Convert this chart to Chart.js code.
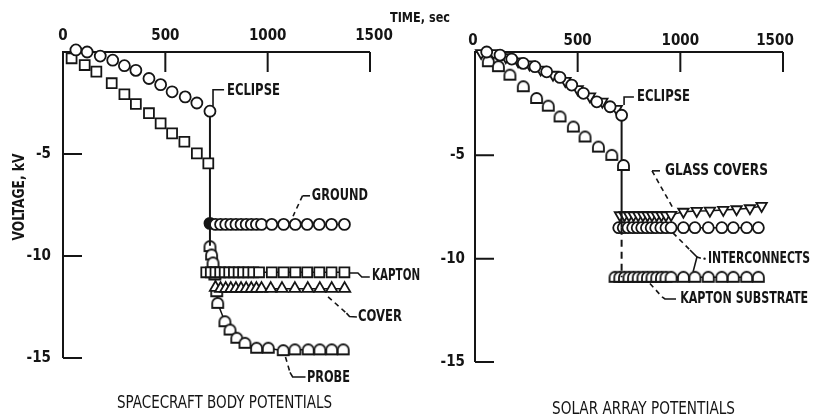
<!DOCTYPE html>
<html>
<head>
<meta charset="utf-8">
<script src="https://cdn.jsdelivr.net/npm/chart.js@4"></script>
<style>
  html, body { margin: 0; padding: 0; background: #fff; }
  #wrap { position: relative; width: 819px; height: 419px; }
  canvas { position: absolute; top: 0; }
  #left { left: 0; }
  #right { left: 420px; }
</style>
</head>
<body>
<div id="wrap">
  <canvas id="left" width="819" height="419"></canvas>
  <canvas id="right" width="399" height="419"></canvas>
</div>
<script>
// ---- axis ticks ----
const xTicks = [0, 500, 1000, 1500];
const yTicks = [-5, -10, -15];

// ---- spacecraft body potentials (left) ----
// before eclipse
const bodyPreCircT = [63, 118, 182, 243, 300, 356, 420, 477, 533, 597, 654, 718];
const bodyPreCircV = [0.1, 0.0, -0.2, -0.4, -0.67, -0.9, -1.3, -1.6, -1.95, -2.2, -2.5, -2.9];
const bodyPreSqT = [42, 106, 163, 238, 300, 356, 420, 477, 533, 593, 654, 710];
const bodyPreSqV = [-0.31, -0.64, -0.96, -1.53, -2.07, -2.55, -3.0, -3.5, -3.99, -4.4, -4.97, -5.46];
const bodyEclipseT = 718;
const bodyEclipseV = [-2.9, -9.5];
// after eclipse
const groundT = [718, 745, 770, 795, 820, 845, 870, 895, 920, 945, 970, 1020, 1078, 1135, 1193, 1252, 1312, 1375];
const groundV = [-8.4, -8.45, -8.45, -8.45, -8.45, -8.45, -8.45, -8.45, -8.45, -8.45, -8.45, -8.45, -8.45, -8.45, -8.45, -8.45, -8.45, -8.45];
const kaptonT = [700, 722, 745, 768, 790, 812, 835, 858, 880, 905, 930, 958, 1020, 1078, 1135, 1193, 1252, 1312, 1375];
const kaptonV = [-10.8, -10.8, -10.8, -10.8, -10.8, -10.8, -10.8, -10.8, -10.8, -10.8, -10.8, -10.8, -10.8, -10.8, -10.8, -10.8, -10.8, -10.8, -10.8];
const coverT = [745, 770, 795, 820, 845, 870, 895, 920, 945, 970, 1015, 1070, 1133, 1196, 1255, 1313, 1376];
const coverV = [-11.55, -11.6, -11.6, -11.6, -11.6, -11.6, -11.6, -11.6, -11.6, -11.6, -11.6, -11.6, -11.6, -11.6, -11.6, -11.6, -11.6];
const probeT = [718, 726, 733, 742, 751, 756, 791, 816, 849, 889, 946, 1003, 1076, 1133, 1198, 1255, 1313, 1369];
const probeV = [-9.54, -9.95, -10.34, -10.93, -11.75, -12.32, -13.22, -13.63, -14.03, -14.28, -14.52, -14.52, -14.64, -14.6, -14.6, -14.6, -14.6, -14.6];

// ---- solar array potentials (right) ----
const arrPreCircT = [57, 122, 179, 235, 292, 349, 414, 471, 528, 593, 658, 714];
const arrPreCircV = [0.0, -0.15, -0.34, -0.55, -0.71, -0.96, -1.23, -1.6, -2.0, -2.41, -2.65, -3.06];
const arrPreTriT = [30, 90, 150, 210, 265, 320, 380, 440, 500, 560, 620, 690];
const arrPreTriV = [-0.05, -0.05, -0.25, -0.45, -0.6, -0.85, -1.1, -1.4, -1.8, -2.15, -2.4, -2.75];
const arrPreDomeT = [65, 114, 170, 235, 300, 357, 414, 479, 536, 601, 666, 723];
const arrPreDomeV = [-0.47, -0.71, -1.12, -1.68, -2.25, -2.62, -3.14, -3.63, -4.11, -4.6, -5.0, -5.49];
const arrEclipseT = 714;
const arrEclipseSolidV = [-3.06, -8.5];
const arrEclipseDashV = [-8.5, -10.9];
const glassT = [706, 728, 750, 772, 795, 818, 840, 862, 885, 908, 930, 955, 1015, 1080, 1144, 1209, 1274, 1339, 1396];
const glassV = [-7.9, -7.9, -7.9, -7.9, -7.9, -7.9, -7.9, -7.9, -7.9, -7.9, -7.9, -7.88, -7.73, -7.69, -7.68, -7.64, -7.61, -7.56, -7.45];
const interT = [700, 722, 745, 768, 790, 812, 835, 858, 880, 905, 930, 955, 1015, 1071, 1136, 1202, 1258, 1323, 1380];
const interV = [-8.5, -8.5, -8.5, -8.5, -8.5, -8.5, -8.5, -8.5, -8.5, -8.5, -8.5, -8.5, -8.5, -8.5, -8.5, -8.5, -8.5, -8.5, -8.5];
const kapSubT = [682, 705, 728, 750, 772, 795, 818, 840, 862, 885, 908, 930, 955, 1015, 1071, 1136, 1202, 1258, 1323, 1380];
const kapSubV = [-10.9, -10.9, -10.9, -10.9, -10.9, -10.9, -10.9, -10.9, -10.9, -10.9, -10.9, -10.9, -10.9, -10.9, -10.9, -10.9, -10.9, -10.9, -10.9, -10.9];

const INK = '#151515';
const FONT = '"Liberation Sans Narrow", "DejaVu Sans Condensed", sans-serif';

const pts = (ts, vs) => ts.map((t, i) => ({ x: t, y: vs[i] }));

// rounded-top, flat-bottom marker
function domeMarker(r) {
  const s = Math.ceil(2 * r + 4);
  const c = document.createElement('canvas');
  c.width = c.height = s;
  const g = c.getContext('2d');
  const m = s / 2;
  g.lineWidth = 1.8;
  g.strokeStyle = INK;
  g.fillStyle = '#fff';
  g.beginPath();
  g.moveTo(m - r, m + r - 1);
  g.lineTo(m - r, m);
  g.arc(m, m, r, Math.PI, 0);
  g.lineTo(m + r, m + r - 1);
  g.closePath();
  g.fill();
  g.stroke();
  return c;
}
const dome = domeMarker(5.5);

function markers(data, style, extra) {
  return Object.assign({
    data, showLine: false, pointStyle: style, pointRadius: 5.5,
    pointBorderColor: INK, pointBackgroundColor: '#fff', pointBorderWidth: 1.8,
    borderColor: INK, borderWidth: 1.5, clip: false
  }, extra || {});
}
function rule(data, dash) {
  return { data, showLine: true, pointRadius: 0, borderColor: INK, borderWidth: 2,
           borderDash: dash || [], clip: false };
}

// text stretched to a given width
function fitText(ctx, text, x, y, w, font) {
  ctx.save();
  ctx.font = font;
  ctx.textBaseline = 'middle';
  ctx.textAlign = 'left';
  const m = ctx.measureText(text).width;
  if (m > w) {
    ctx.translate(x, y);
    ctx.scale(w / m, 1);
    ctx.fillText(text, 0, 0);
  } else {
    ctx.letterSpacing = ((w - m) / Math.max(1, text.length - 1)) + 'px';
    ctx.fillText(text, x, y);
  }
  ctx.restore();
}

const paperAxes = {
  id: 'paperAxes',
  beforeDatasetsDraw(chart, args, o) {
    const { ctx, scales: { x, y } } = chart;
    const x0 = x.getPixelForValue(0), y0 = y.getPixelForValue(0);
    ctx.save();
    ctx.strokeStyle = INK;
    ctx.lineWidth = 2;
    ctx.beginPath();
    ctx.moveTo(x.getPixelForValue(xTicks[xTicks.length - 1]), y0);
    ctx.lineTo(x0, y0);
    ctx.lineTo(x0, y.getPixelForValue(yTicks[yTicks.length - 1]));
    ctx.stroke();
    ctx.beginPath();
    xTicks.forEach(t => {
      if (t === 0) return;
      const px = x.getPixelForValue(t);
      ctx.moveTo(px, y0); ctx.lineTo(px, y0 + 20);
    });
    yTicks.forEach(v => {
      const py = y.getPixelForValue(v);
      ctx.moveTo(x0, py); ctx.lineTo(x0 + 19, py);
    });
    ctx.stroke();
    ctx.fillStyle = INK;
    ctx.font = 'bold 15px ' + FONT;
    ctx.textBaseline = 'middle';
    xTicks.forEach((t, i) => {
      ctx.textAlign = 'center';
      ctx.fillText(String(t), x.getPixelForValue(t) + (o.xShift[i] || 0), y0 - o.xGap);
    });
    yTicks.forEach(v => {
      ctx.textAlign = 'right';
      ctx.fillText(String(v), x0 - o.yGap, y.getPixelForValue(v));
    });
    ctx.restore();
  },
  afterDatasetsDraw(chart, args, o) {
    const { ctx, scales: { x, y } } = chart;
    const P = ([t, v]) => [x.getPixelForValue(t), y.getPixelForValue(v)];
    ctx.save();
    ctx.strokeStyle = INK;
    ctx.fillStyle = INK;
    ctx.lineWidth = 1.6;
    (o.leaders || []).forEach(l => {
      ctx.setLineDash(l.dash ? [5, 4] : []);
      ctx.beginPath();
      l.path.forEach((p, i) => {
        const [px, py] = P(p);
        if (i === 0) ctx.moveTo(px, py); else ctx.lineTo(px, py);
      });
      ctx.stroke();
    });
    ctx.setLineDash([]);
    (o.dots || []).forEach(d => {
      const [px, py] = P(d);
      ctx.beginPath(); ctx.arc(px, py, 1.2, 0, Math.PI * 2); ctx.fill();
    });
    (o.notes || []).forEach(n => {
      const [px, py] = P(n.at);
      fitText(ctx, n.text, px, py, n.w, 'bold 15px ' + FONT);
    });
    (o.texts || []).forEach(n => {
      if (n.rotate) {
        ctx.save();
        ctx.translate(n.x, n.y);
        ctx.rotate(-Math.PI / 2);
        fitText(ctx, n.text, -n.w / 2, 0, n.w, n.font);
        ctx.restore();
      } else {
        fitText(ctx, n.text, n.x, n.y, n.w, n.font);
      }
    });
    ctx.restore();
  }
};

function baseOptions(padding, axesOpts) {
  return {
    responsive: false,
    animation: false,
    layout: { padding },
    scales: {
      x: { type: 'linear', min: 0, max: 1500, display: false },
      y: { type: 'linear', min: -15, max: 0, display: false }
    },
    plugins: { legend: { display: false }, tooltip: { enabled: false }, paperAxes: axesOpts }
  };
}

// left panel
new Chart(document.getElementById('left'), {
  type: 'scatter',
  data: {
    datasets: [
      markers(pts(bodyPreCircT, bodyPreCircV), 'circle'),
      markers(pts(bodyPreSqT, bodyPreSqV), 'rect', { pointRadius: 7 }),
      rule([{ x: bodyEclipseT, y: bodyEclipseV[0] }, { x: bodyEclipseT, y: bodyEclipseV[1] }]),
      markers(pts(groundT, groundV), 'circle', { showLine: true,
        pointBackgroundColor: groundT.map((t, i) => i === 0 ? INK : '#fff') }),
      markers(pts(coverT, coverV), 'triangle', { showLine: true, pointRadius: 6.5 }),
      markers(pts(kaptonT, kaptonV), 'rect', { showLine: true, pointRadius: 7 }),
      markers(pts(probeT, probeV), dome, { showLine: true })
    ]
  },
  options: baseOptions({ left: 63, right: 449, top: 52, bottom: 61 }, {
    xGap: 16, yGap: 12, xShift: [0, 0, 0, 4],
    leaders: [
      { path: [[733, -2.65], [733, -1.85], [787, -1.85]] },
      { path: [[1207, -7.05], [1170, -7.05]] },
      { path: [[1170, -7.05], [1124, -8.05]], dash: true },
      { path: [[1402, -10.83], [1441, -10.83], [1460, -11.03], [1499, -11.03]] },
      { path: [[1295, -12.0], [1385, -12.8]], dash: true },
      { path: [[1385, -12.8], [1400, -12.97], [1436, -12.99]] },
      { path: [[1087, -14.95], [1109, -15.7]], dash: true },
      { path: [[1109, -15.7], [1122, -15.93], [1185, -15.93]] }
    ],
    notes: [
      { text: 'ECLIPSE', at: [801, -1.91], w: 53 },
      { text: 'GROUND', at: [1216, -7.05], w: 56 },
      { text: 'KAPTON', at: [1510, -11.0], w: 48 },
      { text: 'COVER', at: [1441, -12.99], w: 44 },
      { text: 'PROBE', at: [1192, -15.98], w: 43 }
    ],
    texts: [
      { text: 'SPACECRAFT BODY POTENTIALS', x: 117, y: 404, w: 215, font: '17px ' + FONT },
      { text: 'TIME, sec', x: 390, y: 18, w: 60, font: 'bold 14px ' + FONT },
      { text: 'VOLTAGE, kV', x: 20, y: 197, w: 87, font: 'bold 15px ' + FONT, rotate: true }
    ]
  }),
  plugins: [paperAxes]
});

// right panel
new Chart(document.getElementById('right'), {
  type: 'scatter',
  data: {
    datasets: [
      markers(pts(arrPreCircT, arrPreCircV), 'circle'),
      markers(pts(arrPreTriT, arrPreTriV), 'triangle', { rotation: 180, pointRadius: 6 }),
      markers(pts(arrPreDomeT, arrPreDomeV), dome),
      rule([{ x: arrEclipseT, y: arrEclipseSolidV[0] }, { x: arrEclipseT, y: arrEclipseSolidV[1] }]),
      rule([{ x: arrEclipseT, y: arrEclipseDashV[0] }, { x: arrEclipseT, y: arrEclipseDashV[1] }], [7, 5]),
      markers(pts(glassT, glassV), 'triangle', { showLine: true, rotation: 180, pointRadius: 6 }),
      markers(pts(interT, interV), 'circle', { showLine: true }),
      markers(pts(kapSubT, kapSubV), dome, { showLine: true })
    ]
  },
  options: baseOptions({ left: 55, right: 36, top: 52, bottom: 57 }, {
    xGap: 11, yGap: 10, xShift: [-2, 0, 0, -8],
    leaders: [
      { path: [[726, -2.56], [726, -2.18], [774, -2.18]] },
      { path: [[862, -5.75], [901, -5.75]] },
      { path: [[862, -5.75], [964, -7.55]], dash: true },
      { path: [[964, -8.75], [1047, -9.58]], dash: true },
      { path: [[1047, -9.58], [1081, -9.92], [1062, -10.64]] },
      { path: [[1081, -9.92], [1100, -9.98]] },
      { path: [[852, -11.2], [911, -11.85]], dash: true },
      { path: [[911, -11.85], [925, -11.95], [979, -11.95]] }
    ],
    dots: [[1118, -10.0]],
    notes: [
      { text: 'ECLIPSE', at: [789, -2.18], w: 53 },
      { text: 'GLASS COVERS', at: [925, -5.75], w: 103 },
      { text: 'INTERCONNECTS', at: [1135, -10.0], w: 102 },
      { text: 'KAPTON SUBSTRATE', at: [999, -11.95], w: 128 }
    ],
    texts: [
      { text: 'SOLAR ARRAY POTENTIALS', x: 132, y: 410, w: 183, font: '17px ' + FONT }
    ]
  }),
  plugins: [paperAxes]
});
</script>
</body>
</html>
